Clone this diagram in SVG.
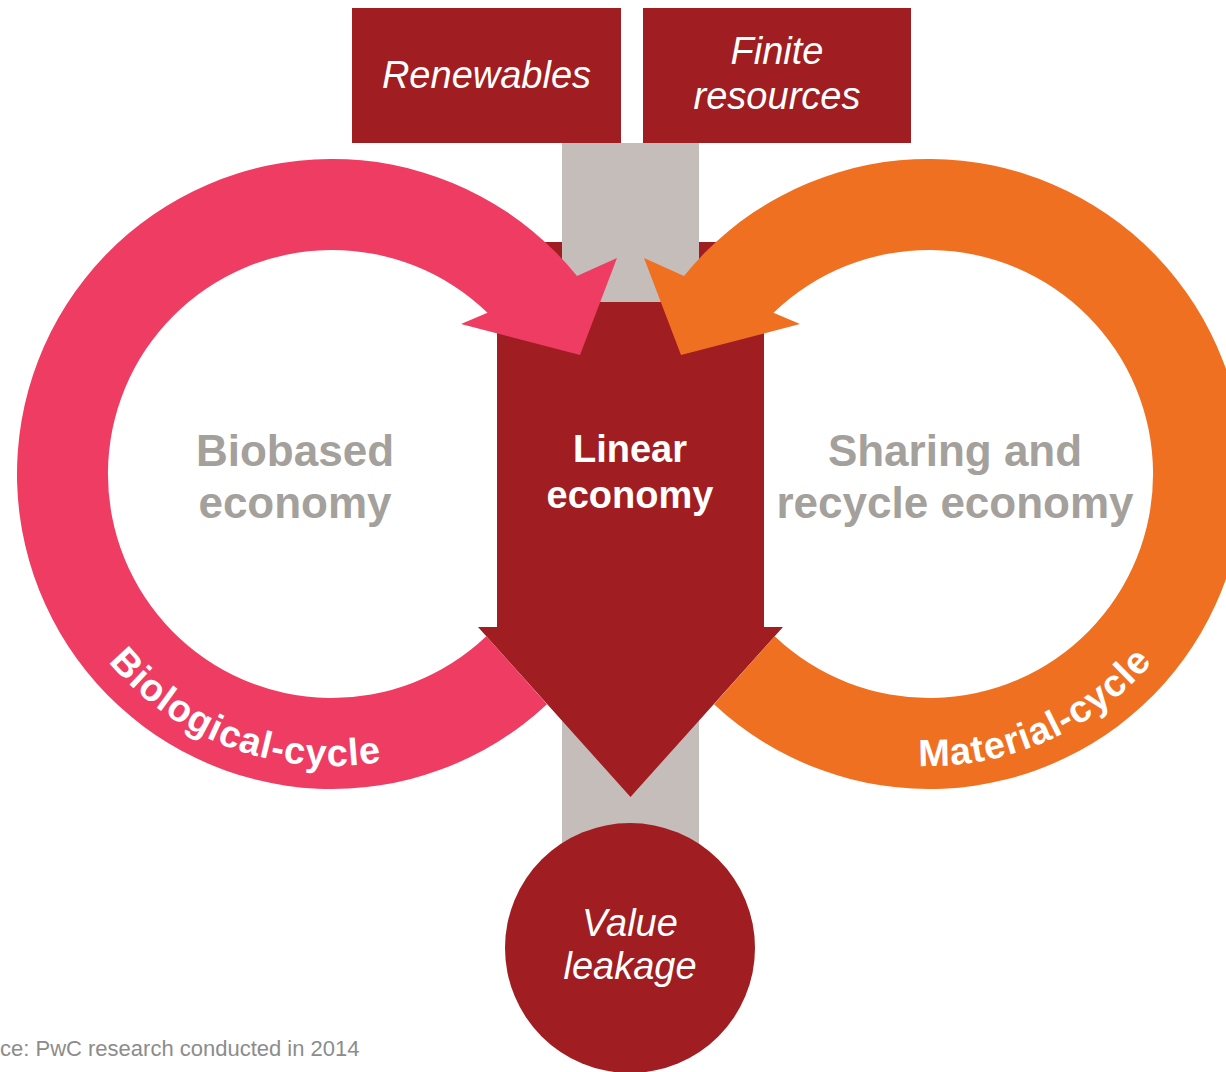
<svg xmlns="http://www.w3.org/2000/svg" width="1226" height="1072" viewBox="0 0 1226 1072">
  <style>
    .dark { fill: #a01d22; }
    .bar { fill: #c5bdb9; }
    .pink { fill: #ee3c62; }
    .orange { fill: #ef7021; }
    .t { font-family: "Liberation Sans", Arial, sans-serif; }
    .wi { fill: #ffffff; font-style: italic; font-size: 38px; text-anchor: middle; }
    .wb { fill: #ffffff; font-weight: bold; font-size: 38px; text-anchor: middle; }
    .gb { fill: #a4a09c; font-weight: bold; font-size: 44px; text-anchor: middle; }
    .cyc { fill: #ffffff; font-weight: bold; font-size: 38px; letter-spacing: 1px; }
    .src { fill: #8c8c8c; font-size: 22px; }
  </style>
  <defs>
    <path id="bioPath" d="M 44.4 524.7 A 292 292 0 0 0 519.7 697.7"/>
    <path id="matPath" d="M 757.4 710.2 A 292 292 0 0 0 1219.4 504.5"/>
  </defs>
  <rect width="1226" height="1072" fill="#ffffff"/>

  <g id="flow-bar">
    <rect class="bar" x="562" y="143" width="137" height="760"/>
  </g>

  <g id="linear-economy">
    <polygon class="dark" points="497,242 764,242 764,627 783,627 630.5,797 478,627 497,627"/>
  </g>

  <g id="connectors">
    <rect class="bar" x="562" y="143" width="137" height="159"/>
    <path id="biological-cycle" class="pink" d="M 486.3 636.3 L 547 704.2 A 315 315 0 1 1 577 276 L 617 258 L 580 355 L 461 324 L 487.5 312.8 A 224 224 0 1 0 486.3 636.3 Z"/>
    <path id="material-cycle" class="orange" d="M 774.7 636.3 L 714 704.2 A 315 315 0 1 0 684 276 L 644 258 L 681 355 L 800 324 L 773.5 312.8 A 224 224 0 1 1 774.7 636.3 Z"/>
    <text class="t cyc"><textPath href="#bioPath" startOffset="50%" text-anchor="middle">Biological-cycle</textPath></text>
    <text class="t cyc"><textPath href="#matPath" startOffset="50%" text-anchor="middle">Material-cycle</textPath></text>
  </g>

  <g id="renewables">
    <rect class="dark" x="352" y="8" width="269" height="135"/>
    <text class="t wi" x="486.5" y="88">Renewables</text>
  </g>

  <g id="finite-resources">
    <rect class="dark" x="643" y="8" width="268" height="135"/>
    <text class="t wi" x="777" y="64">Finite</text>
    <text class="t wi" x="777" y="109">resources</text>
  </g>

  <g id="linear-economy-label">
    <text class="t wb" x="630" y="462">Linear</text>
    <text class="t wb" x="630" y="508">economy</text>
  </g>

  <g id="biobased-economy">
    <text class="t gb" x="295" y="466">Biobased</text>
    <text class="t gb" x="295" y="518">economy</text>
  </g>

  <g id="sharing-recycle-economy">
    <text class="t gb" x="955" y="466">Sharing and</text>
    <text class="t gb" x="955" y="518">recycle economy</text>
  </g>

  <g id="value-leakage">
    <circle class="dark" cx="630" cy="948" r="125"/>
    <text class="t wi" x="630" y="936">Value</text>
    <text class="t wi" x="630" y="979">leakage</text>
  </g>

  <g id="source">
    <text class="t src" x="0" y="1056">ce: PwC research conducted in 2014</text>
  </g>
</svg>
